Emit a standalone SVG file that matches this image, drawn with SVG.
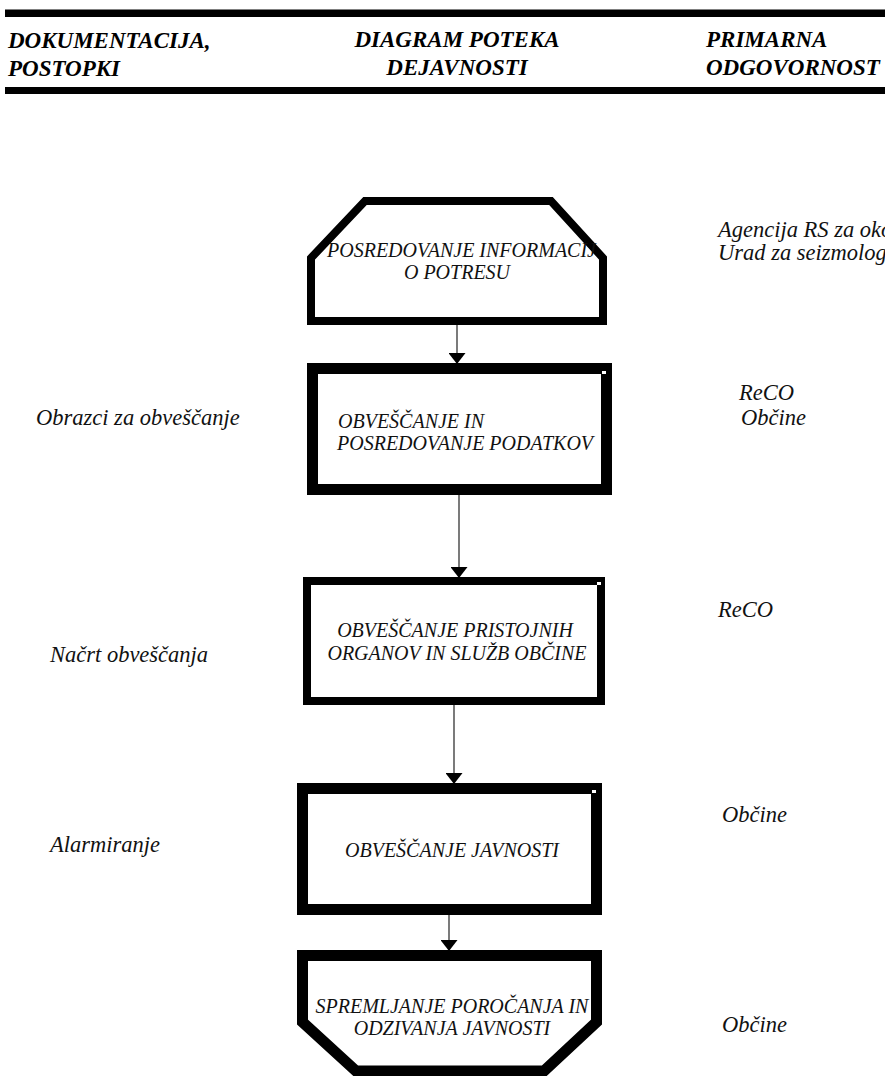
<svg xmlns="http://www.w3.org/2000/svg" width="885" height="1076" viewBox="0 0 885 1076">
<defs>
<style>
.hdr{font-family:"Liberation Serif","Times New Roman",serif;font-weight:bold;font-style:italic;font-size:23px;fill:#000}
.lbl{font-family:"Liberation Serif","Times New Roman",serif;font-style:italic;font-size:20px;fill:#111}
.side{font-size:22.5px}
.node{fill:#fff;stroke:#000;stroke-linejoin:miter}
.mid{text-anchor:middle}
.conn{stroke:#333;stroke-width:1.3;fill:none}
.mark{fill:#fff}
</style>
<marker id="ah" markerUnits="userSpaceOnUse" markerWidth="12" markerHeight="17" viewBox="0 0 12 17" refX="11" refY="8.5" orient="auto">
<path d="M0,0 L11,8.5 L0,17 Z" fill="#000"/>
</marker>
</defs>
<rect width="885" height="1076" fill="#fff"/>
<g id="header">
<rect x="5" y="9.5" width="880" height="7.5" fill="#000"/>
<rect x="5" y="87" width="880" height="7" fill="#000"/>
<text class="hdr" x="8" y="48">DOKUMENTACIJA,</text>
<text class="hdr" x="8" y="76">POSTOPKI</text>
<text class="hdr mid" x="457" y="47">DIAGRAM POTEKA</text>
<text class="hdr mid" x="457" y="75">DEJAVNOSTI</text>
<text class="hdr" x="706" y="47">PRIMARNA</text>
<text class="hdr" x="706" y="75">ODGOVORNOST</text>
</g>
<g id="connectors">
<line class="conn" x1="457" y1="325" x2="457" y2="364" marker-end="url(#ah)"/>
<line class="conn" x1="459" y1="495" x2="459" y2="578" marker-end="url(#ah)"/>
<line class="conn" x1="454" y1="705" x2="454" y2="784" marker-end="url(#ah)"/>
<line class="conn" x1="449" y1="915" x2="449" y2="951" marker-end="url(#ah)"/>
</g>
<g id="node1">
<polygon class="node" stroke-width="8" points="365,201 551,201 603,258 603,321 311,321 311,258"/>
<text class="lbl" x="327" y="257">POSREDOVANJE INFORMACIJ</text>
<text class="lbl mid" x="457" y="279">O POTRESU</text>
</g>
<g id="node2">
<rect class="node" stroke-width="11" x="312.5" y="368.5" width="294" height="121"/>
<rect class="mark" x="602" y="371" width="4" height="3"/>
<text class="lbl" x="338" y="428">OBVEŠČANJE IN</text>
<text class="lbl" x="337" y="450">POSREDOVANJE PODATKOV</text>
</g>
<g id="node3">
<rect class="node" stroke-width="8" x="307" y="581" width="294" height="120"/>
<rect class="mark" x="597" y="582" width="4" height="3"/>
<text class="lbl mid" x="455" y="637">OBVEŠČANJE PRISTOJNIH</text>
<text class="lbl mid" x="457" y="660">ORGANOV IN SLUŽB OBČINE</text>
</g>
<g id="node4">
<rect class="node" stroke-width="11" x="302.5" y="788.5" width="294" height="121"/>
<rect class="mark" x="592" y="790" width="4" height="3"/>
<text class="lbl mid" x="452" y="857">OBVEŠČANJE JAVNOSTI</text>
</g>
<g id="node5">
<polygon class="node" stroke-width="11" points="302.5,955.5 596.5,955.5 596.5,1022 544,1071 356,1071 302.5,1022"/>
<text class="lbl mid" x="452" y="1013">SPREMLJANJE POROČANJA IN</text>
<text class="lbl mid" x="452" y="1035">ODZIVANJA JAVNOSTI</text>
</g>
<g id="left-column">
<text class="lbl side" x="36" y="425">Obrazci za obveščanje</text>
<text class="lbl side" x="50" y="662">Načrt obveščanja</text>
<text class="lbl side" x="50" y="852">Alarmiranje</text>
</g>
<g id="right-column">
<text class="lbl side" x="718" y="237">Agencija RS za okolje,</text>
<text class="lbl side" x="718" y="260">Urad za seizmologijo</text>
<text class="lbl side" x="739" y="400">ReCO</text>
<text class="lbl side" x="741" y="425">Občine</text>
<text class="lbl side" x="718" y="617">ReCO</text>
<text class="lbl side" x="722" y="822">Občine</text>
<text class="lbl side" x="722" y="1032">Občine</text>
</g>
</svg>
